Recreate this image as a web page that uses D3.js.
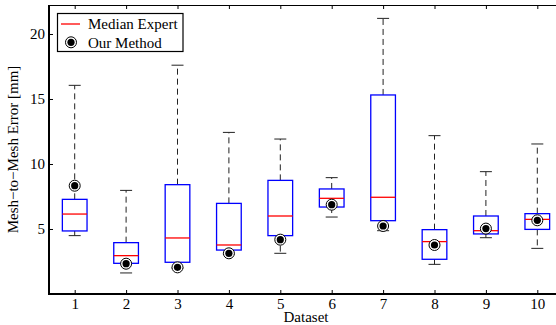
<!DOCTYPE html>
<html>
<head>
<meta charset="utf-8">
<script src="https://cdn.jsdelivr.net/npm/d3@7"></script>
<style>
  body { margin: 0; background: #fff; }
  svg text { font-family: "Liberation Serif", "Times New Roman", serif; fill: #000; }
</style>
</head>
<body>
<div id="chart"></div>
<script>
// box stats per dataset (mm)
const datasets = [1, 2, 3, 4, 5, 6, 7, 8, 9, 10];
const whiskerLow  = [4.49, 1.62, 2.0, 3.08, 3.13, 5.92, 4.87, 2.28, 4.33, 3.51];
const q1          = [4.85, 2.36, 2.44, 3.38, 4.49, 6.69, 5.64, 2.67, 4.62, 4.97];
const median      = [6.15, 2.95, 4.31, 3.77, 6.0, 7.36, 7.44, 4.03, 4.87, 5.74];
const q3          = [7.28, 3.95, 8.41, 6.97, 8.74, 8.08, 15.31, 4.95, 6.0, 6.18];
const whiskerHigh = [16.05, 7.97, 17.6, 12.43, 11.92, 8.95, 21.2, 12.18, 9.41, 11.54];
const ourMethod   = [8.33, 2.33, 2.05, 3.13, 4.18, 6.87, 5.23, 3.77, 5.03, 5.67];
const yTicks = [5, 10, 15, 20];

const width = 556, height = 325;
const margin = {left: 49, top: 5, bottom: 31};
const plotRight = 563; // right edge runs past the canvas in the original

const svg = d3.select("#chart").append("svg")
    .attr("width", width)
    .attr("height", height);

const x = d3.scaleLinear().domain([0.5, 10.5]).range([margin.left, plotRight]);
const y = d3.scaleLinear().domain([0, 22.23]).range([height - margin.bottom, margin.top]);

const data = datasets.map((d, i) => ({
    ds: d, lo: whiskerLow[i], q1: q1[i], med: median[i],
    q3: q3[i], hi: whiskerHigh[i], ours: ourMethod[i]
}));

const boxHalf = 0.24 * (x(2) - x(1));
const capHalf = 6;

// axes (inward ticks)
svg.append("g")
    .attr("transform", `translate(0,${y(0)})`)
    .call(d3.axisBottom(x).tickValues(datasets).tickSize(-4).tickPadding(4).tickFormat(d3.format("d")))
    .call(g => g.select(".domain").remove());
svg.append("g")
    .attr("transform", `translate(0,${margin.top})`)
    .call(d3.axisTop(x).tickValues(datasets).tickSize(-4).tickFormat(""))
    .call(g => g.select(".domain").remove());
svg.append("g")
    .attr("transform", `translate(${margin.left},0)`)
    .call(d3.axisLeft(y).tickValues(yTicks).tickSize(-4).tickPadding(4))
    .call(g => g.select(".domain").remove());

svg.selectAll(".tick text").attr("font-size", 15).attr("font-family", "Liberation Serif");
svg.selectAll(".tick line").attr("stroke", "#000");

// frame
svg.append("line").attr("x1", margin.left).attr("x2", plotRight)
    .attr("y1", margin.top + 0.5).attr("y2", margin.top + 0.5)
    .attr("stroke", "#000").attr("stroke-width", 1);
svg.append("line").attr("x1", margin.left - 1).attr("x2", plotRight)
    .attr("y1", y(0)).attr("y2", y(0))
    .attr("stroke", "#000").attr("stroke-width", 2);
svg.append("line").attr("x1", margin.left).attr("x2", margin.left)
    .attr("y1", margin.top).attr("y2", y(0))
    .attr("stroke", "#000").attr("stroke-width", 2);

const boxes = svg.append("g").selectAll("g")
    .data(data).enter().append("g");

// dashed whiskers
boxes.append("line")
    .attr("x1", d => x(d.ds)).attr("x2", d => x(d.ds))
    .attr("y1", d => y(d.q3)).attr("y2", d => y(d.hi))
    .attr("stroke", "#222").attr("stroke-dasharray", "6,4");
boxes.append("line")
    .attr("x1", d => x(d.ds)).attr("x2", d => x(d.ds))
    .attr("y1", d => y(d.q1)).attr("y2", d => y(d.lo))
    .attr("stroke", "#222").attr("stroke-dasharray", "6,4");
// caps
boxes.append("line")
    .attr("x1", d => x(d.ds) - capHalf).attr("x2", d => x(d.ds) + capHalf)
    .attr("y1", d => y(d.hi)).attr("y2", d => y(d.hi))
    .attr("stroke", "#222");
boxes.append("line")
    .attr("x1", d => x(d.ds) - capHalf).attr("x2", d => x(d.ds) + capHalf)
    .attr("y1", d => y(d.lo)).attr("y2", d => y(d.lo))
    .attr("stroke", "#222");

// box
boxes.append("rect")
    .attr("x", d => x(d.ds) - boxHalf)
    .attr("width", 2 * boxHalf)
    .attr("y", d => y(d.q3))
    .attr("height", d => y(d.q1) - y(d.q3))
    .attr("fill", "#fff")
    .attr("stroke", "#0000ff").attr("stroke-width", 1.3);

// median
boxes.append("line")
    .attr("x1", d => x(d.ds) - boxHalf).attr("x2", d => x(d.ds) + boxHalf)
    .attr("y1", d => y(d.med)).attr("y2", d => y(d.med))
    .attr("stroke", "#ff0000").attr("stroke-width", 1.3);

// our method marker
function marker(g) {
    g.append("circle").attr("r", 5.5).attr("fill", "#fff").attr("stroke", "#000").attr("stroke-width", 1);
    g.append("circle").attr("r", 3.6).attr("fill", "#000");
}
boxes.append("g")
    .attr("transform", d => `translate(${x(d.ds)},${y(d.ours)})`)
    .call(marker);

// axis titles
svg.append("text")
    .attr("x", (margin.left + plotRight) / 2).attr("y", 322)
    .attr("text-anchor", "middle").attr("font-size", 15)
    .text("Dataset");
svg.append("text")
    .attr("transform", `translate(18,${(margin.top + y(0)) / 2}) rotate(-90)`)
    .attr("text-anchor", "middle").attr("font-size", 15)
    .text("Mesh\u2212to\u2212Mesh Error [mm]");

// legend
const legend = svg.append("g");
legend.append("rect")
    .attr("x", 57.5).attr("y", 13.5).attr("width", 125.5).attr("height", 38)
    .attr("fill", "#fff").attr("stroke", "#000").attr("stroke-width", 1.2);
legend.append("line")
    .attr("x1", 61).attr("x2", 80).attr("y1", 24).attr("y2", 24)
    .attr("stroke", "#ff0000").attr("stroke-width", 1.3);
legend.append("text").attr("x", 88).attr("y", 29).attr("font-size", 15).text("Median Expert");
legend.append("g").attr("transform", "translate(71,42.3)").call(marker);
legend.append("text").attr("x", 88).attr("y", 47.5).attr("font-size", 15).text("Our Method");
</script>
</body>
</html>
